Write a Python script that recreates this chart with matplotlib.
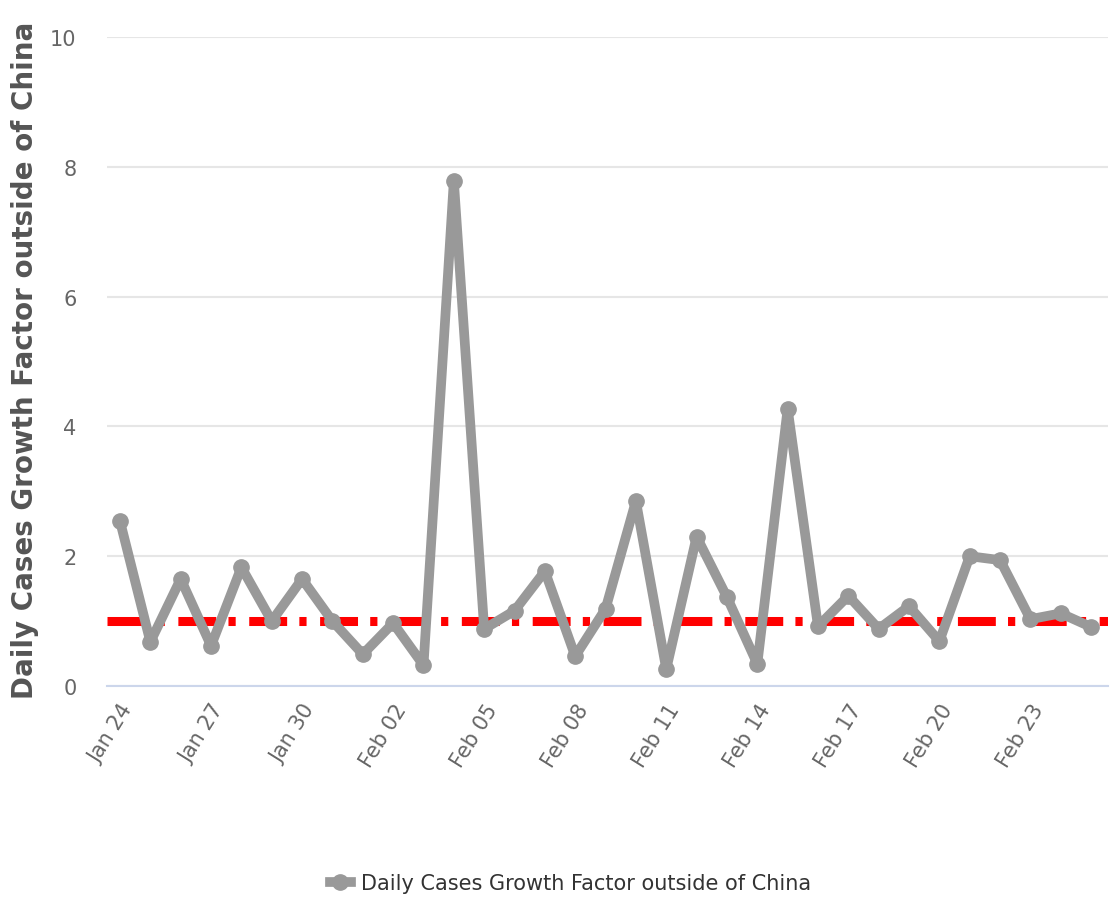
import matplotlib
matplotlib.use("Agg")
import matplotlib.pyplot as plt
from matplotlib.lines import Line2D

# Data
dates = ["Jan 24", "Jan 25", "Jan 26", "Jan 27", "Jan 28", "Jan 29", "Jan 30", "Jan 31",
         "Feb 01", "Feb 02", "Feb 03", "Feb 04", "Feb 05", "Feb 06", "Feb 07", "Feb 08",
         "Feb 09", "Feb 10", "Feb 11", "Feb 12", "Feb 13", "Feb 14", "Feb 15", "Feb 16",
         "Feb 17", "Feb 18", "Feb 19", "Feb 20", "Feb 21", "Feb 22", "Feb 23", "Feb 24",
         "Feb 25"]
growth = [2.54, 0.68, 1.65, 0.62, 1.83, 1.0, 1.65, 1.0,
          0.49, 0.97, 0.32, 7.78, 0.88, 1.16, 1.77, 0.46,
          1.19, 2.85, 0.26, 2.3, 1.37, 0.34, 4.27, 0.92,
          1.39, 0.88, 1.23, 0.69, 2.0, 1.94, 1.03, 1.12,
          0.91]
threshold = 1.0
y_ticks = [0, 2, 4, 6, 8, 10]

fig = plt.figure(figsize=(11.19, 9.04), dpi=100)
ax = fig.add_axes([0.0956, 0.240, 0.8944, 0.718])

x = list(range(len(dates)))

# Threshold line at 1 (dash-dot)
ax.axhline(threshold, color="#ff0000", lw=6.5, dashes=(4.2, 1.35, 0.8, 1.5), zorder=2)

# Main series
ax.plot(x, growth, color="#999999", lw=7, marker="o", markersize=11,
        solid_capstyle="round", solid_joinstyle="round", zorder=3)

ax.set_ylim(0, 10)
ax.set_xlim(-0.43, 32.55)
ax.set_yticks(y_ticks)
ax.set_xticks(x[::3])
ax.set_xticklabels(dates[::3], rotation=58, ha="right", rotation_mode="anchor",
                   fontsize=15, color="#666666")
for lab in ax.get_yticklabels():
    lab.set_fontsize(15)
    lab.set_color("#666666")

ax.grid(axis="y", color="#e6e6e6", lw=1.5)
ax.set_axisbelow(True)
for s in ["top", "right", "left"]:
    ax.spines[s].set_visible(False)
ax.spines["bottom"].set_color("#ccd6eb")
ax.spines["bottom"].set_linewidth(1.5)
ax.tick_params(axis="both", length=0)
ax.tick_params(axis="x", pad=10)
ax.tick_params(axis="y", pad=22)

ax.set_ylabel("Daily Cases Growth Factor outside of China", fontsize=20,
              fontweight="bold", color="#555555")
ax.yaxis.set_label_coords(-0.068, 0.504)

# Legend
handle = Line2D([0], [0], color="#999999", lw=7, marker="o", markersize=11)
fig.legend([handle], ["Daily Cases Growth Factor outside of China"],
           loc="center", bbox_to_anchor=(0.51, 0.022), frameon=False,
           prop={"size": 15}, handlelength=1.0,
           handletextpad=0.5, labelcolor="#333333")

fig.savefig("out.png", dpi=100)
